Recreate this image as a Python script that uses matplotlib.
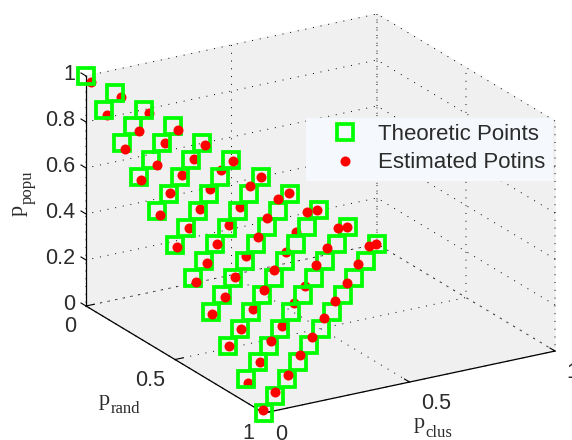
import matplotlib
matplotlib.use('Agg')
import matplotlib.pyplot as plt
from matplotlib.patches import Rectangle
import numpy as np
from mpl_toolkits.mplot3d import proj3d

plt.rcParams['font.family'] = 'Liberation Sans'

theo_rand = [0, 0, 0, 0, 0, 0, 0, 0, 0, 0, 0,
             .1, .1, .1, .1, .1, .1, .1, .1, .1, .1,
             .2, .2, .2, .2, .2, .2, .2, .2, .2,
             .3, .3, .3, .3, .3, .3, .3, .3,
             .4, .4, .4, .4, .4, .4, .4,
             .5, .5, .5, .5, .5, .5,
             .6, .6, .6, .6, .6,
             .7, .7, .7, .7,
             .8, .8, .8,
             .9, .9,
             1]
theo_clus = [0, .1, .2, .3, .4, .5, .6, .7, .8, .9, 1,
             0, .1, .2, .3, .4, .5, .6, .7, .8, .9,
             0, .1, .2, .3, .4, .5, .6, .7, .8,
             0, .1, .2, .3, .4, .5, .6, .7,
             0, .1, .2, .3, .4, .5, .6,
             0, .1, .2, .3, .4, .5,
             0, .1, .2, .3, .4,
             0, .1, .2, .3,
             0, .1, .2,
             0, .1,
             0]
theo_popu = [1, .9, .8, .7, .6, .5, .4, .3, .2, .1, 0,
             .9, .8, .7, .6, .5, .4, .3, .2, .1, 0,
             .8, .7, .6, .5, .4, .3, .2, .1, 0,
             .7, .6, .5, .4, .3, .2, .1, 0,
             .6, .5, .4, .3, .2, .1, 0,
             .5, .4, .3, .2, .1, 0,
             .4, .3, .2, .1, 0,
             .3, .2, .1, 0,
             .2, .1, 0,
             .1, 0,
             0]

est_rand = [.015, .002, 0, .001, 0, 0, 0, 0, 0, 0, 0,
            .115, .101, .090, .087, .068, .063, .053, .038, .029, .027,
            .217, .204, .187, .177, .180, .162, .149, .138, .134,
            .308, .293, .289, .282, .262, .258, .241, .240,
            .410, .398, .392, .375, .363, .357, .348,
            .506, .500, .493, .473, .459, .449,
            .609, .602, .586, .582, .559,
            .707, .695, .675, .665,
            .800, .792, .777,
            .910, .885,
            .990]
est_clus = [.007, .119, .218, .317, .410, .504, .600, .698, .795, .898, .997,
            .003, .122, .216, .317, .423, .526, .626, .735, .849, .955,
            .001, .118, .217, .319, .420, .523, .631, .745, .853,
            .002, .111, .214, .319, .430, .530, .643, .750,
            .002, .109, .212, .321, .425, .533, .644,
            .003, .110, .210, .324, .433, .542,
            .004, .108, .214, .318, .433,
            0, .109, .222, .328,
            .003, .112, .220,
            0, .108,
            .001]
est_popu = [.978, .879, .782, .682, .590, .496, .400, .302, .205, .102, .003,
            .882, .777, .694, .596, .509, .411, .321, .227, .122, .018,
            .782, .678, .596, .504, .400, .315, .220, .117, .013,
            .690, .596, .497, .399, .308, .212, .116, .010,
            .588, .493, .396, .304, .212, .110, .008,
            .491, .390, .297, .203, .108, .009,
            .387, .290, .200, .100, .008,
            .293, .196, .103, .007,
            .197, .096, .003,
            .090, .007,
            .009]
# estimated points that sit under the green squares in the original
behind = [0, 1, 2, 11, 13, 14, 15, 23, 24, 25, 27, 32, 33, 35, 39, 41, 43, 49, 53, 54, 61, 63]

rand_ticks = [0, .5, 1]
clus_ticks = [0, .5, 1]
popu_ticks = [0, .2, .4, .6, .8, 1]
rand_labels = ['0', '0.5', '1']
clus_labels = ['0', '0.5', '1']
popu_labels = ['0', '0.2', '0.4', '0.6', '0.8', '1']

W, H = 572, 440
text_col = '#2b2b2b'
pane_col = '#f0f0f0'

fig = plt.figure(figsize=(W / 100, H / 100), dpi=100)
ax = fig.add_axes([-0.5, -0.5, 2, 2], projection='3d', proj_type='ortho', computed_zorder=False)
ax.view_init(elev=20.97, azim=-30.76)
ax.set_box_aspect((348, 338.6, 246.3))
ax.set_xlim(0, 1, view_margin=0)
ax.set_ylim(0, 1, view_margin=0)
ax.set_zlim(0, 1, view_margin=0)

ax.set_xticks(rand_ticks, rand_labels, ha='right', va='top')
ax.set_yticks(clus_ticks, clus_labels, ha='left', va='center')
ax.set_zticks(popu_ticks, popu_labels, ha='right', va='center')

for axis in (ax.xaxis, ax.yaxis, ax.zaxis):
    axis.set_pane_color(pane_col)
    axis.pane.set_edgecolor(pane_col)
    axis.line.set_color('black')
    axis.line.set_linewidth(0.9)
    axis._axinfo['grid'].update(color='black', linewidth=0.7, linestyle=(0, (1, 7)))
    axis._axinfo['tick'].update(inward_factor=0.0, outward_factor=0.35)
    axis._axinfo['tick']['linewidth'] = {True: 0.8, False: 0.8}
ax.tick_params(labelsize=15.5, labelcolor=text_col, color='black')
ax.xaxis.set_tick_params(pad=-1.2)
ax.yaxis.set_tick_params(pad=4.9)
ax.zaxis.set_tick_params(pad=-3.5)


def left_z_edge(minmax, maxmin, position=None):
    # matlab keeps the z axis on the left corner, mplot3d would use the right one
    low = np.minimum(minmax, maxmin)
    high = low.copy()
    high[2] = np.maximum(minmax, maxmin)[2]
    return low, high


ax.zaxis._get_axis_line_edge_points = left_z_edge

idx = np.arange(len(est_rand))
under = np.isin(idx, behind)
er, ec, ep = np.array(est_rand), np.array(est_clus), np.array(est_popu)

ax.plot(er[under], ec[under], ep[under], 'o', color='#ff0000', ms=7.2, mew=0, zorder=2)
squares, = ax.plot(theo_rand, theo_clus, theo_popu, 's', mfc='none', mec='#00ff00', mew=2.7, ms=11, zorder=3,
                   label='Theoretic Points')
dots, = ax.plot(er[~under], ec[~under], ep[~under], 'o', color='#ff0000', ms=7.2, mew=0, zorder=4,
                label='Estimated Potins')


def to_px(x, y, z):
    u, v, _ = proj3d.proj_transform(x, y, z, ax.get_proj())
    return ax.transData.transform((u, v))


def place(cx, cy, s):
    ax.set_position([(cx - s / 2) / W, (cy - s / 2) / H, s / W, s / H])


# fit the box onto the corners of the original
side = 2000.0
place(W / 2, H / 2, side)
p0, p1 = to_px(0, 0, 0), to_px(1, 1, 0)
side = side * (555 - 86) / (p1[0] - p0[0])
place(W / 2, H / 2, side)
p0 = to_px(0, 0, 0)
place(W / 2 + 86 - p0[0], H / 2 + (H - 306) - p0[1], side)

fig.add_artist(Rectangle((306 / W, 1 - 181 / H), 247 / W, 63 / H, transform=fig.transFigure,
                         facecolor='#f5f8fc', edgecolor='none', zorder=5))
leg = fig.legend(handles=[squares, dots], loc='upper left', bbox_to_anchor=(325 / W, 1 - 124 / H),
                 fontsize=16, frameon=False, numpoints=1, borderaxespad=0, borderpad=0, labelspacing=0.33,
                 handlelength=1.8, handletextpad=0.585, labelcolor=text_col)
leg.set_zorder(6)


def serif_text(x, y, s, size, rotation=0):
    fig.text(x / W, 1 - y / H, s, fontsize=size, family='Liberation Serif', color=text_col, ha='left',
             va='baseline', rotation=rotation, rotation_mode='anchor')


serif_text(99, 404.5, 'p', 16)
serif_text(110.5, 412.5, 'rand', 12)
serif_text(414, 428, 'p', 16)
serif_text(425.7, 436.5, 'clus', 12)
serif_text(23, 216, 'p', 16, rotation=90)
serif_text(32, 204, 'popu', 12, rotation=90)

fig.savefig('out.png', dpi=100)
